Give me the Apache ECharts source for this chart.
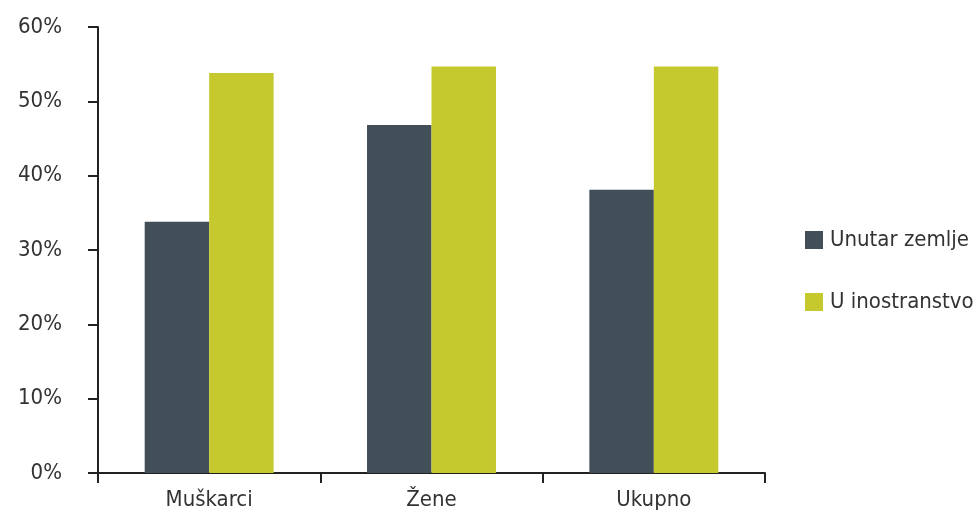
<!DOCTYPE html>
<html><head><meta charset="utf-8">
<script src="https://cdn.jsdelivr.net/npm/echarts@6/dist/echarts.min.js"></script>
<style>html,body{margin:0;padding:0;background:#fff}#c{width:979px;height:513px}</style>
</head><body><div id="c"></div>
<script>
const categories = ['Muškarci', 'Žene', 'Ukupno'];
const unutarZemlje = [33.8, 46.8, 38.1];
const uInostranstvo = [53.8, 54.7, 54.7];
const seriesNames = ['Unutar zemlje', 'U inostranstvo'];
const FONT = '"DejaVu Sans Condensed", sans-serif';
const chart = echarts.init(document.getElementById('c'));
chart.setOption({
  animation: false,
  textStyle: { fontFamily: FONT },
  grid: { left: 98, right: 214, top: 27, bottom: 40, containLabel: false },
  legend: {
    orient: 'vertical', left: 800, top: 224, itemWidth: 18, itemHeight: 18, itemGap: 40,
    icon: 'rect',
    textStyle: { fontFamily: FONT, fontSize: 22, color: '#333', padding: [0, 0, 0, 2] },
    data: seriesNames
  },
  xAxis: {
    type: 'category', data: categories,
    axisLine: { lineStyle: { color: '#222', width: 2 } },
    axisTick: { show: true, length: 10, lineStyle: { color: '#222', width: 2 } },
    axisLabel: { fontFamily: FONT, fontSize: 22, color: '#333', margin: 16 }
  },
  yAxis: {
    type: 'value', min: 0, max: 60, interval: 10,
    axisLine: { show: true, lineStyle: { color: '#222', width: 2 } },
    axisTick: { show: true, length: 10, lineStyle: { color: '#222', width: 2 } },
    splitLine: { show: false },
    axisLabel: { fontFamily: FONT, fontSize: 22, color: '#333', margin: 36, formatter: '{value}%' }
  },
  series: [
    { name: seriesNames[0], type: 'bar', data: unutarZemlje, barGap: '0%', barCategoryGap: '42%', itemStyle: { color: '#424f59' } },
    { name: seriesNames[1], type: 'bar', data: uInostranstvo, barGap: '0%', barCategoryGap: '42%', itemStyle: { color: '#c5c92e' } }
  ]
});
</script></body></html>
